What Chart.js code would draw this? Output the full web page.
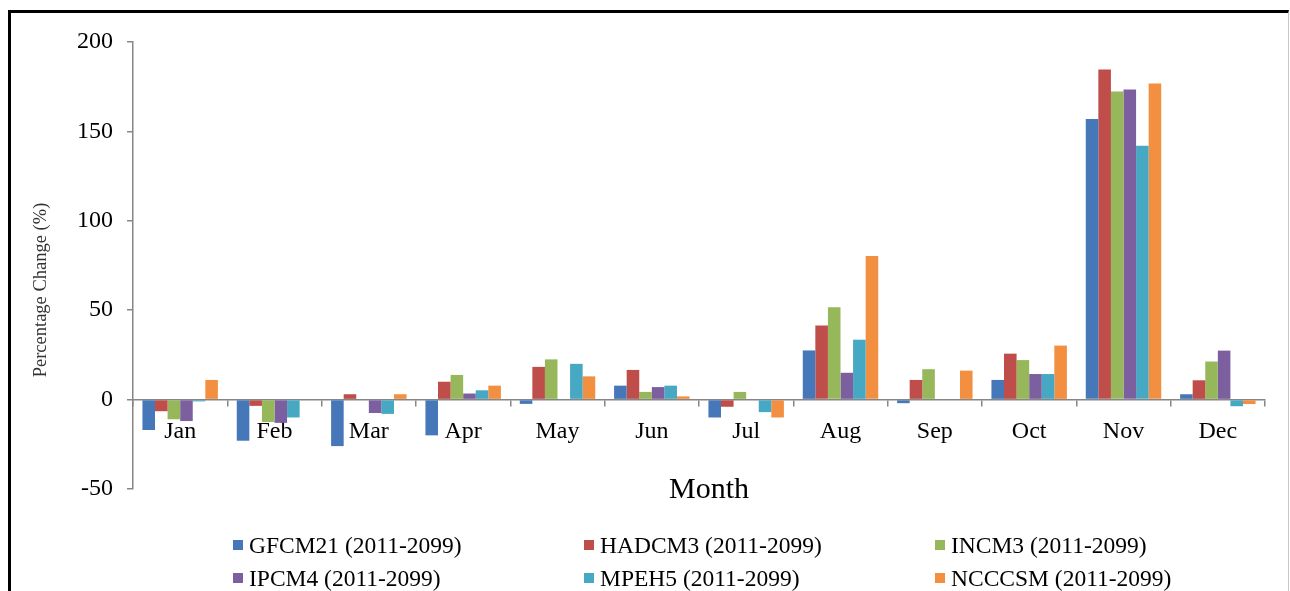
<!DOCTYPE html>
<html>
<head>
<meta charset="utf-8">
<script src="https://cdn.jsdelivr.net/npm/chart.js@4/dist/chart.umd.min.js"></script>
<style>
  html, body { margin: 0; padding: 0; background: #fff; }
  #wrap { position: relative; width: 1290px; height: 591px; overflow: hidden; }
  #frame { position: absolute; left: 8px; top: 10px; width: 1277px; height: 600px;
           border-top: 3px solid #000; border-left: 3px solid #000; border-right: 1px solid #c8c8c8;
           pointer-events: none; }
  #legend { position: absolute; left: 0; top: 0; width: 1290px; height: 591px; pointer-events: none;
            font-family: "Liberation Serif", "Times New Roman", serif; font-size: 23.5px; color: #000; }
  .item { position: absolute; display: flex; align-items: center; white-space: nowrap; height: 26px; }
  .box { width: 10px; height: 10px; margin-right: 6px; }
</style>
</head>
<body>
<div id="wrap">
  <canvas id="c" width="1290" height="591"></canvas>
  <div id="legend"></div>
  <div id="frame"></div>
</div>
<script>
// Monthly percentage change of each GCM for 2011-2099
const months = ['Jan', 'Feb', 'Mar', 'Apr', 'May', 'Jun', 'Jul', 'Aug', 'Sep', 'Oct', 'Nov', 'Dec'];
const gfcm21 = [-17, -23, -26, -20, -2.4, 7.8, -10, 27.5, -2, 11, 157, 3];
const hadcm3 = [-6.5, -3.5, 3, 10, 18.3, 16.6, -4, 41.4, 11, 25.7, 184.6, 10.8];
const incm3  = [-11, -12.5, 0, 13.8, 22.5, 4.3, 4.3, 51.6, 17, 22.1, 172.3, 21.3];
const ipcm4  = [-12, -13, -7.5, 3.4, 0, 7, 0, 15, 0, 14.3, 173.4, 27.4];
const mpeh5  = [-1, -10, -8, 5.2, 20, 7.8, -7, 33.5, 0, 14.3, 142, -3.7];
const ncccsm = [11, 0, 3, 7.8, 13, 1.8, -10, 80.3, 16.2, 30.2, 176.8, -2.5];
const seriesNames = ['GFCM21 (2011-2099)', 'HADCM3 (2011-2099)', 'INCM3 (2011-2099)',
                     'IPCM4 (2011-2099)', 'MPEH5 (2011-2099)', 'NCCCSM (2011-2099)'];
const yTicks = [-50, 0, 50, 100, 150, 200];

const seriesValues = [gfcm21, hadcm3, incm3, ipcm4, mpeh5, ncccsm];
const colors = ['#4677B8', '#BF4D4A', '#96B85A', '#7B5F9F', '#47A8C4', '#F38F40'];
const serif = '"Liberation Serif", "Times New Roman", serif';
const axisGray = '#868686';

// Axis titles: "Month" sits level with the lowest y tick, the y title runs up the left edge
const axisTitles = {
  id: 'axisTitles',
  afterDraw(chart) {
    const {ctx, chartArea} = chart;
    ctx.save();
    ctx.font = '30px ' + serif;
    ctx.fillStyle = '#000';
    ctx.textAlign = 'center';
    ctx.textBaseline = 'middle';
    ctx.fillText('Month', (chartArea.left + chartArea.right) / 2 + 10, chartArea.bottom + 1);

    ctx.translate(41, 290);
    ctx.rotate(-Math.PI / 2);
    ctx.font = '18.5px ' + serif;
    ctx.fillStyle = '#333';
    ctx.fillText('Percentage Change (%)', 0, 0);
    ctx.restore();
  }
};

const chart = new Chart(document.getElementById('c'), {
  type: 'bar',
  data: {
    labels: months,
    datasets: seriesValues.map((vals, i) => ({
      label: seriesNames[i],
      data: vals,
      backgroundColor: colors[i],
      borderWidth: 0,
      categoryPercentage: 0.8,
      barPercentage: 1.0
    }))
  },
  options: {
    responsive: false,
    animation: false,
    layout: { padding: { left: 30, top: 42, right: 25, bottom: 102 } },
    plugins: { legend: { display: false }, tooltip: { enabled: false } },
    scales: {
      y: {
        min: yTicks[0],
        max: yTicks[yTicks.length - 1],
        afterBuildTicks(scale) { scale.ticks = yTicks.map(v => ({ value: v })); },
        afterFit(scale) { scale.width = 103; },
        ticks: { font: { family: serif, size: 24 }, color: '#000', padding: 14 },
        grid: { drawOnChartArea: false, drawTicks: true, tickLength: 6, color: axisGray, lineWidth: 1.5 },
        border: { color: axisGray, width: 1.5 }
      },
      x: {
        position: { y: 0 },
        offset: true,
        ticks: { font: { family: serif, size: 24 }, color: '#000', padding: 12,
                 maxRotation: 0, autoSkip: false },
        grid: { offset: true, drawOnChartArea: false, drawTicks: true, tickLength: 6,
                color: axisGray, lineWidth: 1.5 },
        border: { color: axisGray, width: 1.5 }
      }
    }
  },
  plugins: [axisTitles]
});

// Legend: three columns, two rows
const legendEl = document.getElementById('legend');
const colX = [233, 584, 935];
const rowY = [532, 565];
chart.data.datasets.forEach((ds, i) => {
  const item = document.createElement('div');
  item.className = 'item';
  item.style.left = colX[i % 3] + 'px';
  item.style.top = rowY[Math.floor(i / 3)] + 'px';
  const box = document.createElement('span');
  box.className = 'box';
  box.style.background = ds.backgroundColor;
  const txt = document.createElement('span');
  txt.textContent = ds.label;
  item.appendChild(box);
  item.appendChild(txt);
  legendEl.appendChild(item);
});
</script>
</body>
</html>
